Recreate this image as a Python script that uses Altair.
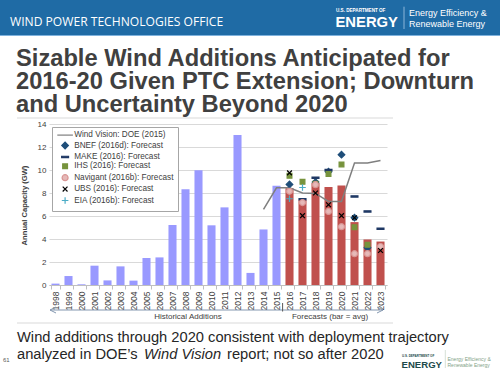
import altair as alt
import pandas as pd

# ---------------- data ----------------
years = ["1998", "1999", "2000", "2001", "2002", "2003", "2004", "2005", "2006",
         "2007", "2008", "2009", "2010", "2011", "2012", "2013", "2014", "2015",
         "2016", "2017", "2018", "2019", "2020", "2021", "2022", "2023"]
hist_years = years[:18]
hist_values = [0.12, 0.78, 0.06, 1.68, 0.40, 1.62, 0.38, 2.35, 2.40, 5.22,
               8.32, 9.97, 5.19, 6.75, 13.04, 1.05, 4.83, 8.62]
fc_years = years[18:]
fc_avg = [8.42, 7.42, 8.88, 8.53, 8.66, 5.47, 3.96, 3.78]

wv_years = years[16:]
wv_values = [6.58, 8.45, 8.45, 8.0, 7.96, 7.27, 7.27, 10.6, 10.6, 10.83]

y_ticks = [0, 2, 4, 6, 8, 10, 12, 14]

series_names = ["Wind Vision: DOE (2015)", "BNEF (2016d): Forecast",
                "MAKE (2016): Forecast", "IHS (2016): Forecast",
                "Navigant (2016b): Forecast", "UBS (2016): Forecast",
                "EIA (2016b): Forecast"]
bnef = [8.75, None, 8.95, 9.85, 11.33, 5.85, 3.25, None]
make = [None, 7.45, 9.33, 10.0, None, 7.7, 6.4, 4.9]
ihs = [9.5, 8.97, 8.8, 9.65, 10.48, 5.02, 3.5, None]
navigant = [8.15, 7.17, 8.72, 6.4, 5.07, 2.72, 2.72, 3.35]
ubs = [9.75, 6.03, 8.0, 6.98, 6.03, 5.85, None, 3.0]
eia = [7.5, 8.48, None, None, None, None, None, None]

fill_colors = ["#7f7f7f", "#1f4e79", "#1f3864", "#77933c", "#e6b9b8", "#000000", "#4bacc6"]
stroke_colors = ["#7f7f7f", "#1f4e79", "#1f3864", "#77933c", "#d99694", "#000000", "#4bacc6"]
shapes = ["M-2.6,0L2.6,0",
          "M-1.1,0L0,-1.1L1.1,0L0,1.1Z",
          "M-1.15,-0.22L1.15,-0.22L1.15,0.22L-1.15,0.22Z",
          "M-0.8,-0.8L0.8,-0.8L0.8,0.8L-0.8,0.8Z",
          "circle",
          "M-0.8,-0.8L0.8,0.8M-0.8,0.8L0.8,-0.8",
          "M-1.1,0L1.1,0M0,-1.1L0,1.1"]

# ---------------- tables ----------------
bars_df = pd.DataFrame({
    "year": hist_years + fc_years,
    "value": hist_values + fc_avg,
    "kind": ["hist"] * len(hist_years) + ["fc"] * len(fc_years),
})
wv_df = pd.DataFrame({"year": wv_years, "value": wv_values})
rows = []
for name, vals in zip(series_names[1:], [bnef, make, ihs, navigant, ubs, eia]):
    for y, v in zip(fc_years, vals):
        if v is not None:
            rows.append({"year": y, "value": v, "series": name})
pts_df = pd.DataFrame(rows)

FONT = "Liberation Sans"
xscale = alt.Scale(domain=years, paddingInner=0.38, paddingOuter=0.19)
yscale = alt.Scale(domain=[0, 14], nice=False)

x_axis = alt.Axis(title=None, labelAngle=-90, labelFontSize=8.5, labelFont=FONT,
                  labelColor="#404040", tickBand="extent", tickSize=4,
                  tickColor="#bfbfbf", domainColor="#bfbfbf", labelPadding=2,
                  grid=False, labelOverlap=False)
y_axis = alt.Axis(values=y_ticks, tickCount=8, grid=True, gridColor="#d9d9d9",
                  domain=False, ticks=False, labelFontSize=8, labelFont=FONT,
                  labelColor="#404040", labelPadding=3, labelOverlap=False,
                  labelFlush=False,
                  title="Annual Capacity (GW)", titleFontSize=7.6, titleFont=FONT,
                  titleFontWeight="bold", titleColor="#404040",
                  titleX=-25, titleY=81, titleBaseline="middle", titleAngle=-90)

bars = alt.Chart(bars_df).mark_bar().encode(
    x=alt.X("year:N", scale=xscale, sort=years, axis=x_axis),
    y=alt.Y("value:Q", scale=yscale, axis=y_axis),
    color=alt.condition(alt.datum.kind == "hist", alt.value("#9999ff"), alt.value("#c0504d")),
)

line = alt.Chart(wv_df).mark_line(color="#7f7f7f", strokeWidth=1.5).encode(
    x=alt.X("year:N", scale=xscale, sort=years, axis=x_axis),
    y=alt.Y("value:Q", scale=yscale, axis=y_axis))

leg = alt.Legend(title=None, orient="none", legendX=3, legendY=3, fillColor="white",
                 strokeColor="#a6a6a6", padding=4, labelFontSize=8.2, labelFont=FONT,
                 labelColor="#404040", rowPadding=0.4, symbolStrokeWidth=1.2,
                 symbolSize=36, labelOffset=5, symbolOffset=5)

points = alt.Chart(pts_df).mark_point(filled=True, opacity=1, strokeWidth=1.2, size=36).encode(
    x=alt.X("year:N", scale=xscale, sort=years, axis=x_axis),
    y=alt.Y("value:Q", scale=yscale, axis=y_axis),
    color=alt.Color("series:N", scale=alt.Scale(domain=series_names, range=fill_colors), legend=leg),
    stroke=alt.Stroke("series:N", scale=alt.Scale(domain=series_names, range=stroke_colors), legend=leg),
    shape=alt.Shape("series:N", scale=alt.Scale(domain=series_names, range=shapes), legend=leg),
)


def one():
    return pd.DataFrame({"t": [""]})


def txt(s, x, y, size, color, weight="normal", font=FONT, align="left", style="normal",
        baseline="alphabetic"):
    return alt.Chart(pd.DataFrame({"t": [s]})).mark_text(
        align=align, baseline=baseline, fontSize=size, font=font, fontWeight=weight,
        fontStyle=style, color=color).encode(text="t:N", x=alt.value(x), y=alt.value(y))


def rule(x1, x2, y1, y2, color, w=1.0):
    return alt.Chart(one()).mark_rule(color=color, strokeWidth=w).encode(
        x=alt.value(x1), x2=alt.value(x2), y=alt.value(y1), y2=alt.value(y2))


def rect(x1, x2, y1, y2, color):
    return alt.Chart(one()).mark_rect(color=color).encode(
        x=alt.value(x1), x2=alt.value(x2), y=alt.value(y1), y2=alt.value(y2))


def chevron(x, y, path, color):
    return alt.Chart(one()).mark_point(shape=path, filled=False, size=36, color=color,
                                       strokeWidth=1, opacity=1).encode(
        x=alt.value(x), y=alt.value(y))


# plot origin is at (49, 124) on the page
deco = [
    rect(-49, 451, -124, -89, "#1f6ba5"),
    rule(-49, 451, -88.5, -88.5, "#7fb2dd", 1),
    txt("WIND POWER TECHNOLOGIES OFFICE", -39, -98, 12.1, "white", font="Open Sans"),
    txt("U.S. DEPARTMENT OF", 287, -112.3, 4.6, "white", weight="bold"),
    txt("ENERGY", 286.5, -96.7, 14.8, "white", weight="bold"),
    rule(355, 355, -117.3, -95, "#a9c9e6", 0.8),
    txt("Energy Efficiency &", 360, -108, 9, "white"),
    txt("Renewable Energy", 360, -97.2, 9, "white"),
    txt("Sizable Wind Additions Anticipated for", -33, -58.5, 23.7, "#404040", weight="bold"),
    txt("2016-20 Given PTC Extension; Downturn", -33, -35.3, 23.7, "#404040", weight="bold"),
    txt("and Uncertainty Beyond 2020", -33, -12.2, 23.7, "#404040", weight="bold"),
    rule(-32, 344, -6, -6, "#d9d9d9", 1),
    # axis grouping arrow
    rule(1, 334, 186, 186, "#8497b0", 1),
    chevron(4, 186, "M1,-1L-1,0L1,1", "#8497b0"),
    chevron(331, 186, "M-1,-1L1,0L-1,1", "#8497b0"),
    rule(233.6, 233.6, 179, 187.5, "#595959", 1),
    txt("Historical Additions", 139, 195, 8, "#404040", align="center"),
    txt("Forecasts (bar = avg)", 281, 195, 8, "#404040", align="center"),
    rule(-32, 344, 199, 199, "#d9d9d9", 1),
    txt("Wind additions through 2020 consistent with deployment trajectory", -32, 217.5, 14.7, "#262626"),
    txt("analyzed in DOE\u2019s", -32, 234.5, 14.7, "#262626"),
    txt("Wind Vision", 95, 234.5, 14.7, "#262626", style="italic"),
    txt("report; not so after 2020", 178, 234.5, 14.7, "#262626"),
    txt("61", -46, 238, 6, "#595959"),
    txt("U.S. DEPARTMENT OF", 353, 233, 3, "#1d4a4a", weight="bold"),
    txt("ENERGY", 352.5, 243.5, 9.6, "#1d4a4a", weight="bold"),
    rule(396.3, 396.3, 226, 244, "#b9c9b9", 0.6),
    txt("Energy Efficiency &", 398.5, 236.5, 5, "#7f9f86"),
    txt("Renewable Energy", 398.5, 242.8, 5, "#7f9f86"),
]

chart = alt.layer(bars, line, points, *deco).properties(
    width=338, height=161,
    padding={"left": 49, "top": 124, "right": 113, "bottom": 91},
    autosize=alt.AutoSizeParams(type="none"),
    background="white",
).configure_view(stroke=None)

chart.save("out.html", embed_options={"renderer": "svg", "actions": False})
